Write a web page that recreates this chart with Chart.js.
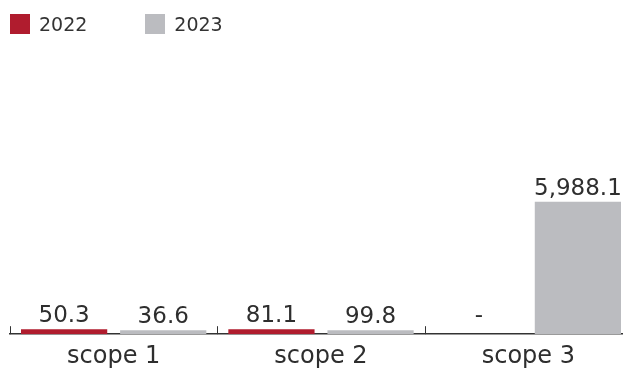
<!DOCTYPE html>
<html>
<head>
<meta charset="utf-8">
<script src="https://cdn.jsdelivr.net/npm/chart.js@4/dist/chart.umd.min.js"></script>
<style>
  html, body { margin: 0; padding: 0; background: #fff; }
  #wrap { position: relative; width: 623px; height: 369px; overflow: hidden; }
  #legend { position: absolute; left: 10px; top: 13px; display: flex; font-family: "DejaVu Sans", sans-serif; font-size: 19px; color: #333; }
  .item { display: flex; align-items: center; margin-right: 58px; }
  .box { width: 20px; height: 20px; margin-right: 9px; }
</style>
</head>
<body>
<div id="wrap">
  <canvas id="chart" width="632" height="369"></canvas>
  <div id="legend"></div>
</div>
<script>
// datos del gráfico
const categories = ['scope 1', 'scope 2', 'scope 3'];
const seriesNames = ['2022', '2023'];
const values2022 = [50.3, 81.1, null];
const values2023 = [36.6, 99.8, 5988.1];
const colors = ['#b01c2e', '#bbbcc0'];

// leyenda en HTML
const legend = document.getElementById('legend');
seriesNames.forEach((name, i) => {
    const item = document.createElement('div');
    item.className = 'item';
    item.innerHTML = '<div class="box" style="background:' + colors[i] + '"></div><span>' + name + '</span>';
    legend.appendChild(item);
});

function formatValue(v) {
    if (v === null || v === undefined) return '-';
    return v.toLocaleString('en-US', { minimumFractionDigits: 1, maximumFractionDigits: 1 });
}

// etiquetas de valor encima de cada barra
const valueLabels = {
    id: 'valueLabels',
    afterDatasetsDraw(chart) {
        const ctx = chart.ctx;
        ctx.save();
        ctx.font = '23px "DejaVu Sans"';
        ctx.fillStyle = '#2e2e2e';
        ctx.textAlign = 'center';
        ctx.textBaseline = 'alphabetic';
        chart.data.datasets.forEach((ds, di) => {
            const meta = chart.getDatasetMeta(di);
            meta.data.forEach((bar, i) => {
                const v = ds.data[i];
                const y = (v === null) ? chart.scales.y.getPixelForValue(0) - 12 : bar.y - 7;
                ctx.fillText(formatValue(v), bar.x, y);
            });
        });
        ctx.restore();
    }
};

// marcas pequeñas hacia arriba entre categorías
const upTicks = {
    id: 'upTicks',
    afterDraw(chart) {
        const x = chart.scales.x;
        const base = chart.chartArea.bottom;
        const ctx = chart.ctx;
        ctx.save();
        ctx.strokeStyle = '#333';
        ctx.lineWidth = 1;
        const half = (x.getPixelForValue(1) - x.getPixelForValue(0)) / 2;
        for (let i = 0; i < categories.length; i++) {
            const px = Math.round(x.getPixelForValue(i) - half) + 0.5;
            ctx.beginPath();
            ctx.moveTo(px, base);
            ctx.lineTo(px, base - 8);
            ctx.stroke();
        }
        ctx.restore();
    }
};

new Chart(document.getElementById('chart'), {
    type: 'bar',
    data: {
        labels: categories,
        datasets: [
            { label: seriesNames[0], data: values2022, backgroundColor: colors[0], minBarLength: 5 },
            { label: seriesNames[1], data: values2023, backgroundColor: colors[1], minBarLength: 4 }
        ]
    },
    options: {
        responsive: false,
        animation: false,
        categoryPercentage: 0.956,
        barPercentage: 0.87,
        layout: { padding: { left: 10, right: 0, top: 60, bottom: -10 } },
        plugins: {
            legend: { display: false },
            tooltip: { enabled: false }
        },
        scales: {
            x: {
                grid: { display: false, drawTicks: false },
                border: { display: true, color: '#333', width: 1.5 },
                ticks: { color: '#2e2e2e', font: { family: 'DejaVu Sans', size: 24 }, padding: 8 }
            },
            y: {
                display: false,
                min: 0,
                max: 12400
            }
        }
    },
    plugins: [valueLabels, upTicks]
});
</script>
</body>
</html>
